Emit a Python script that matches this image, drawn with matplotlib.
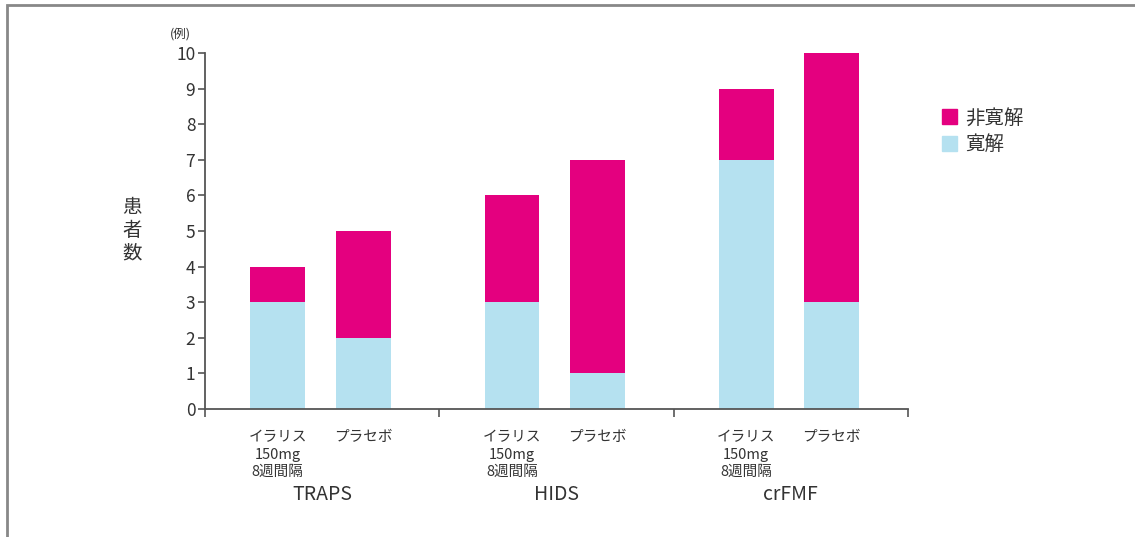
import matplotlib.pyplot as plt
from matplotlib.patches import Rectangle, Patch

plt.rcParams['font.family'] = ['Noto Sans CJK JP', 'DejaVu Sans']

groups = ['TRAPS', 'HIDS', 'crFMF']
arms = ['イラリス\n150mg\n8週間隔', 'プラセボ']
remit_ilaris = [3, 3, 7]
nonremit_ilaris = [1, 3, 2]
remit_placebo = [2, 1, 3]
nonremit_placebo = [3, 6, 7]

pink = '#E4007F'
blue = '#B5E1F0'
axis_col = '#555555'
text_col = '#333333'

fig = plt.figure(figsize=(11.35, 5.37), dpi=100)
ax = fig.add_axes([205 / 1135, 1 - 409 / 537, 703 / 1135, 356 / 537])

offsets = [0.31, 0.675]
width = 0.234
for i in range(len(groups)):
    x1 = i + offsets[0]
    x2 = i + offsets[1]
    ax.bar(x1, remit_ilaris[i], width, color=blue)
    ax.bar(x1, nonremit_ilaris[i], width, bottom=remit_ilaris[i], color=pink)
    ax.bar(x2, remit_placebo[i], width, color=blue)
    ax.bar(x2, nonremit_placebo[i], width, bottom=remit_placebo[i], color=pink)
    ax.text(x1, -0.6, arms[0], ha='center', va='top', fontsize=10.5,
            color=text_col, linespacing=1.3)
    ax.text(x2, -0.6, arms[1], ha='center', va='top', fontsize=10.5,
            color=text_col)
    ax.text(i + 0.5, -2.12, groups[i], ha='center', va='top', fontsize=14,
            color=text_col)

ax.set_xlim(0, 3)
ax.set_ylim(0, 10)
ax.set_yticks(range(11))
ax.set_xticks([0, 1, 2, 3])
ax.set_xticklabels([])
for s in ['top', 'right']:
    ax.spines[s].set_visible(False)
for s in ['left', 'bottom']:
    ax.spines[s].set_color(axis_col)
    ax.spines[s].set_linewidth(1.3)
ax.tick_params(axis='y', length=5, width=1.2, color=axis_col, labelsize=12.5,
               labelcolor=text_col, pad=2)
ax.tick_params(axis='x', length=6, width=1.2, color=axis_col)

ax.text(-0.06, 10.35, '(例)', ha='right', va='bottom', fontsize=9, color=text_col)
fig.text(132 / 1135, 1 - 230 / 537, '患\n者\n数', ha='center', va='center',
         fontsize=14, color=text_col, linespacing=1.1)

handles = [Patch(color=pink, label='非寛解'), Patch(color=blue, label='寛解')]
leg = fig.legend(handles=handles, loc='upper left',
                 bbox_to_anchor=(924 / 1135, 1 - 90 / 537), frameon=False,
                 fontsize=14, handlelength=0.8, handleheight=0.8,
                 handletextpad=0.4, labelspacing=0.3)
for t in leg.get_texts():
    t.set_color(text_col)

fig.patches.append(Rectangle((7 / 1135, -0.1), 2, 1 - 5 / 537 + 0.1,
                             transform=fig.transFigure, fill=False,
                             edgecolor='#888888', linewidth=2))

fig.savefig('out.png', dpi=100)
